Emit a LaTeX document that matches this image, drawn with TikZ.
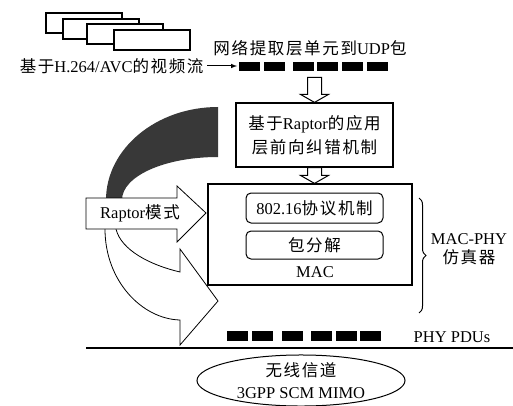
\documentclass[tikz,border=0pt]{standalone}
\usepackage{fontspec}
\setmainfont{Liberation Serif}
\newfontfamily\cjk[LetterSpace=10]{Noto Sans CJK SC}
\newcommand{\zh}[1]{{\cjk #1}}
\usetikzlibrary{positioning}
\usetikzlibrary{shapes, arrows, calc, decorations.pathreplacing}

% fat hollow arrow pointing down, from #1 to the tip #2
\newcommand{\hollowdown}[2]{%
  \draw[hollow] ($(#1)+(-7,0)$) -- ($(#2)+(-7,-8)$) -- ($(#2)+(-14,-8)$) -- (#2)
    -- ($(#2)+(14,-8)$) -- ($(#2)+(7,-8)$) -- ($(#1)+(7,0)$) -- cycle;}

\begin{document}
\begin{tikzpicture}[x=1pt, y=-1pt, font=\fontsize{16.5}{19}\selectfont]
    \tikzstyle{frame}=[draw, fill=white, line width=1.3pt];
    \tikzstyle{block}=[draw, rectangle, line width=1.2pt, align=center];
    \tikzstyle{rblock}=[draw, shape=rectangle, rounded corners=5pt, line width=1pt,
    minimum width=137pt, align=center];
    \tikzstyle{pkt}=[fill=black, minimum width=21pt, minimum height=9pt, inner sep=0pt,
    anchor=north west];
    \tikzstyle{line}=[-latex, line width=1pt];
    \tikzstyle{hollow}=[draw, fill=white, line width=1pt];
    \tikzstyle{band}=[fill=black!78];
    \useasboundingbox (0,0) rectangle (513,406);

    % video frames
    \foreach \x/\y in {46/13, 63/19, 87/24, 114/30}
        \draw[frame] (\x,\y) rectangle ++(76,20);
    \node[anchor=east] (src) at (207,66) {\zh{基于}H.264/AVC\zh{的视频流}};

    % NAL units packed into UDP
    \foreach \x [count=\i] in {239,264,293,317,342,367}
        \node[pkt] (u\i) at (\x,62) {};
    \node (udplbl) at (310,48) {\zh{网络提取层单元到}UDP\zh{包}};
    \draw[line, shorten >=2pt] (src.east) -- (src.east -| u1.west);

    \node[block, minimum width=157pt, minimum height=64pt,
    font=\fontsize{16.5}{24}\selectfont] (fec) at (314.5,135)
        {\zh{基于}Raptor\zh{的应用}\\\zh{层前向纠错机制}};

    % feedback band and Raptor mode arrow
    \fill[band] (218,107) .. controls (156,107) and (106,149) .. (106,200) -- (106,213)
        -- (122,213) -- (122,200) .. controls (122,176) and (165,157) .. (218,157) -- cycle;
    \draw[hollow, line width=0.8pt] (105,222) -- (105,229) .. controls (105,281) and (142,319) .. (180,320)
        -- (180,345) -- (218,301) -- (180,249) -- (180,272)
        .. controls (150,265) and (121,250) .. (116,229) -- (116,222);
    \draw[hollow, line width=0.8pt] (86,198) -- (177,198) -- (177,186) -- (206,213)
        -- (177,242) -- (177,229) -- (86,229) -- cycle;
    \node (raptor) at (140,213.5) {Raptor\zh{模式}};

    % MAC layer
    \node[block, minimum width=204pt, minimum height=101pt] (mac) at (310,234.5) {};
    \node[rblock, minimum height=30pt] (proto) at (314.5,208) {802.16\zh{协议机制}};
    \node[rblock, minimum height=28pt, below=7pt of proto] (dec) {\zh{包分解}};
    \node (maclbl) at (315,272) {MAC};

    \coordinate (a1) at ($(fec.north |- u3.south)+(0,6)$);
    \coordinate (a2) at (fec.south |- mac.north);
    \hollowdown{a1}{fec.north}
    \hollowdown{fec.south}{a2}

    \draw[line width=1pt, decorate, decoration={brace, amplitude=7pt}] (419,198) -- (419,313);
    \node[align=center] (sim) at (469,249) {MAC-PHY\\\zh{仿真器}};

    % physical layer
    \foreach \x [count=\i] in {227,252,282,311,336,360}
        \node[pkt, minimum height=10pt] (p\i) at (\x,331) {};
    \node (pdus) at (452,337) {PHY PDUs};
    \draw[line width=1.2pt] (86,348) -- (513,348);
    \node[ellipse, draw, line width=1pt, minimum width=208pt, minimum height=49pt,
    inner sep=0pt, align=center, font=\fontsize{16.5}{22}\selectfont] (chan) at (301,380.5)
        {\zh{无线信道}\\3GPP SCM MIMO};
\end{tikzpicture}
\end{document}
